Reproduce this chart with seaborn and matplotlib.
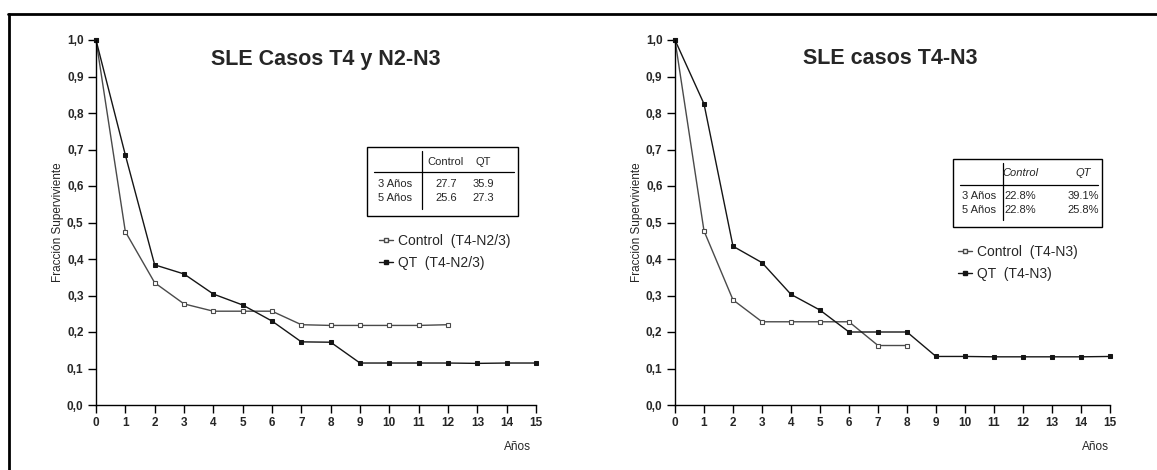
import matplotlib
matplotlib.use("Agg")
import matplotlib.pyplot as plt
import seaborn as sns
import pandas as pd
from matplotlib.lines import Line2D
from matplotlib.patches import Rectangle

sns.set_theme(style="white")
plt.rcParams['font.family'] = ['Liberation Sans', 'DejaVu Sans']

# ---------------- data ----------------
years_ctrl_left = [0, 1, 2, 3, 4, 5, 6, 7, 8, 9, 10, 11, 12]
ctrl_left = [1.0, 0.475, 0.335, 0.277, 0.257, 0.257, 0.257, 0.220, 0.218, 0.218, 0.218, 0.218, 0.220]
years_qt_left = [0, 1, 2, 3, 4, 5, 6, 7, 8, 9, 10, 11, 12, 13, 14, 15]
qt_left = [1.0, 0.685, 0.384, 0.359, 0.304, 0.274, 0.230, 0.173, 0.172, 0.115, 0.115, 0.115, 0.115, 0.114, 0.115, 0.115]

years_ctrl_right = [0, 1, 2, 3, 4, 5, 6, 7, 8]
ctrl_right = [1.0, 0.477, 0.288, 0.228, 0.228, 0.228, 0.228, 0.163, 0.163]
years_qt_right = [0, 1, 2, 3, 4, 5, 6, 7, 8, 9, 10, 11, 12, 13, 14, 15]
qt_right = [1.0, 0.825, 0.435, 0.390, 0.303, 0.260, 0.200, 0.200, 0.200, 0.133, 0.133, 0.132, 0.132, 0.132, 0.132, 0.133]

titles = ["SLE Casos T4 y N2-N3", "SLE casos T4-N3"]
legend_left = ["Control  (T4-N2/3)", "QT  (T4-N2/3)"]
legend_right = ["Control  (T4-N3)", "QT  (T4-N3)"]
xticks = list(range(0, 16))
yticks = [0.0, 0.1, 0.2, 0.3, 0.4, 0.5, 0.6, 0.7, 0.8, 0.9, 1.0]
ytick_labels = ["0,0", "0,1", "0,2", "0,3", "0,4", "0,5", "0,6", "0,7", "0,8", "0,9", "1,0"]
ylabel = "Fracción Superviviente"
xlabel = "Años"

table_left_header = ["", "Control", "QT"]
table_left_rows = [["3 Años", "27.7", "35.9"], ["5 Años", "25.6", "27.3"]]
table_right_header = ["", "Control", "QT"]
table_right_rows = [["3 Años", "22.8%", "39.1%"], ["5 Años", "22.8%", "25.8%"]]

# ---------------- figure ----------------
W, H = 1157, 470
fig = plt.figure(figsize=(W / 100, H / 100), dpi=100)
fig.patch.set_facecolor("white")


def fx(px):
    return px / W


def fy(py):
    return 1 - py / H


axL = fig.add_axes([fx(96), fy(405), fx(536) - fx(96), fy(40) - fy(405)])
axR = fig.add_axes([fx(675), fy(405), fx(1110) - fx(675), fy(40) - fy(405)])

ctrl_color = "#4a4a4a"
qt_color = "#151515"


def draw_panel(ax, xc, yc, xq, yq, leg_labels):
    dc = pd.DataFrame({"x": xc, "y": yc})
    dq = pd.DataFrame({"x": xq, "y": yq})
    sns.lineplot(data=dc, x="x", y="y", ax=ax, color=ctrl_color, lw=1.0,
                 marker="s", markersize=3.2, markerfacecolor="white",
                 markeredgecolor=ctrl_color, markeredgewidth=0.8, clip_on=False,
                 label=leg_labels[0])
    sns.lineplot(data=dq, x="x", y="y", ax=ax, color=qt_color, lw=1.0,
                 marker="s", markersize=3.2, markerfacecolor=qt_color,
                 markeredgecolor=qt_color, clip_on=False, label=leg_labels[1])
    ax.set_xlim(0, 15)
    ax.set_ylim(0, 1.0)
    ax.set_xticks(xticks)
    ax.set_xticklabels([str(t) for t in xticks], fontsize=8.5, fontweight="bold")
    ax.set_yticks(yticks)
    ax.set_yticklabels(ytick_labels, fontsize=8.5, fontweight="bold")
    ax.tick_params(axis="both", direction="out", length=6, width=1, color="black",
                   bottom=True, left=True, pad=3)
    for s in ["top", "right"]:
        ax.spines[s].set_visible(False)
    for s in ["left", "bottom"]:
        ax.spines[s].set_color("black")
        ax.spines[s].set_linewidth(1)
    ax.set_xlabel("")
    ax.set_ylabel(ylabel, fontsize=8.5, labelpad=2)
    ax.set_facecolor("white")
    ax.grid(False)
    leg = ax.get_legend()
    if leg:
        leg.remove()


draw_panel(axL, years_ctrl_left, ctrl_left, years_qt_left, qt_left, legend_left)
draw_panel(axR, years_ctrl_right, ctrl_right, years_qt_right, qt_right, legend_right)

# titles
fig.text(fx(326), fy(59), titles[0], fontsize=15.5, fontweight="bold", ha="center", va="center")
fig.text(fx(890), fy(59), titles[1], fontsize=15.5, fontweight="bold", ha="center", va="center")

# x labels
fig.text(fx(517), fy(447), xlabel, fontsize=8.5, ha="center", va="center")
fig.text(fx(1095), fy(447), xlabel, fontsize=8.5, ha="center", va="center")

# legends
for ax, labels, anchor in [(axL, legend_left, (fx(379), fy(234))),
                           (axR, legend_right, (fx(958), fy(245)))]:
    handles = [Line2D([], [], color=ctrl_color, lw=1.0, marker="s", markersize=3.2,
                      markerfacecolor="white", markeredgecolor=ctrl_color),
               Line2D([], [], color=qt_color, lw=1.0, marker="s", markersize=3.2,
                      markerfacecolor=qt_color, markeredgecolor=qt_color)]
    fig.legend(handles, labels, loc="upper left", bbox_to_anchor=anchor,
               bbox_transform=fig.transFigure, frameon=False, fontsize=10,
               handlelength=1.0, handletextpad=0.4, labelspacing=0.55,
               borderpad=0, borderaxespad=0, markerscale=1)


# tables
def draw_table(box, divx, line_y, header_y, row_ys, col_xs, header, rows, italic_header):
    x0, y0, x1, y1 = box
    fig.add_artist(Rectangle((fx(x0), fy(y1)), fx(x1) - fx(x0), fy(y0) - fy(y1),
                             transform=fig.transFigure, fill=False, ec="black", lw=1.0))
    fig.add_artist(Line2D([fx(divx), fx(divx)], [fy(y0 + 4), fy(y1 - 7)],
                          transform=fig.transFigure, color="black", lw=0.9))
    fig.add_artist(Line2D([fx(x0 + 7), fx(x1 - 4)], [fy(line_y), fy(line_y)],
                          transform=fig.transFigure, color="black", lw=0.9))
    style = "italic" if italic_header else "normal"
    for j in (1, 2):
        fig.text(fx(col_xs[j]), fy(header_y), header[j], fontsize=8, style=style,
                 ha="center", va="center")
    for r, yy in zip(rows, row_ys):
        fig.text(fx(col_xs[0]), fy(yy), r[0], fontsize=8, ha="center", va="center")
        fig.text(fx(col_xs[1]), fy(yy), r[1], fontsize=8, ha="center", va="center")
        fig.text(fx(col_xs[2]), fy(yy), r[2], fontsize=8, ha="center", va="center")


draw_table((367, 147, 518, 216), 422, 172, 162, [184, 198], [395, 446, 483],
           table_left_header, table_left_rows, False)
draw_table((953, 159, 1102, 227), 1003, 185, 173, [196, 210], [979, 1020, 1083],
           table_right_header, table_right_rows, True)

# frame lines (scan border)
fig.add_artist(Line2D([fx(8), 1.0], [fy(14), fy(14)], transform=fig.transFigure,
                      color="black", lw=2.0))
fig.add_artist(Line2D([fx(9), fx(9)], [0.0, fy(14)], transform=fig.transFigure,
                      color="black", lw=2.0))

fig.savefig("out.png", dpi=100, facecolor="white")
